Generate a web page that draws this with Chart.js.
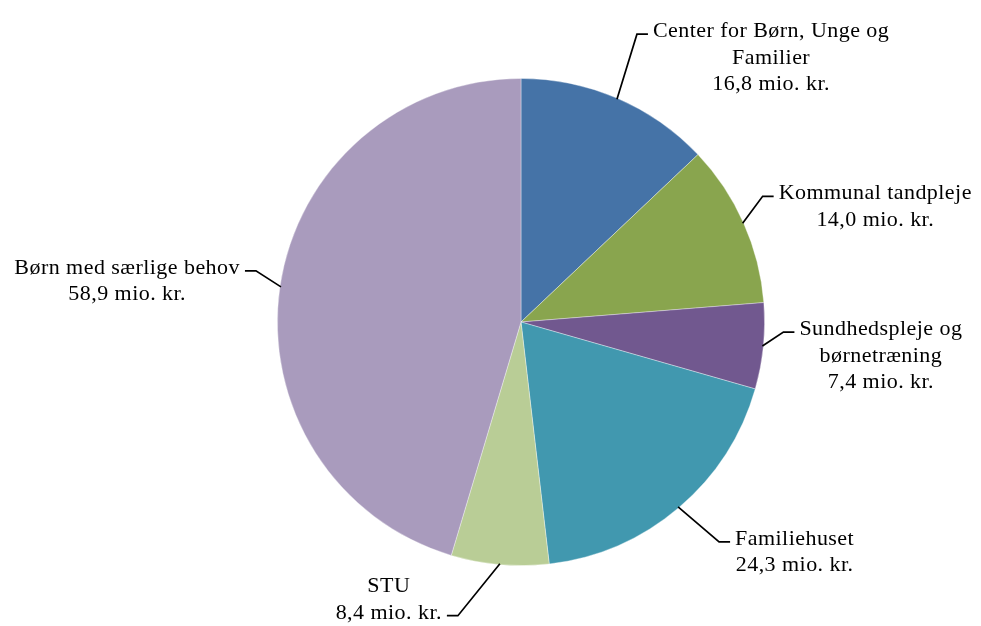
<!DOCTYPE html>
<html>
<head>
<meta charset="utf-8">
<script src="https://cdn.jsdelivr.net/npm/chart.js@4.4.0/dist/chart.umd.min.js"></script>
<style>
  html, body { margin: 0; padding: 0; background: #fff; }
  #wrap { width: 981px; height: 626px; }
</style>
</head>
<body>
<div id="wrap"><canvas id="pie" width="981" height="626"></canvas></div>
<script>
// categories (one array of text lines per slice) and values in mio. kr.
const categories = [
  ['Center for Børn, Unge og', 'Familier'],
  ['Kommunal tandpleje'],
  ['Sundhedspleje og', 'børnetræning'],
  ['Familiehuset'],
  ['STU'],
  ['Børn med særlige behov']
];
const values = [16.8, 14.0, 7.4, 24.3, 8.4, 58.9];
const colors = ['#4573A7', '#89A54E', '#71588F', '#4198AF', '#B9CD96', '#A99BBD'];

function fmt(v) { return v.toFixed(1).replace('.', ',') + ' mio. kr.'; }

// leader line elbow offsets from arc edge, side of the hook, which text line the hook meets
const leader = [
  { dx: 20, dy: -65, side: 1, line: 0 },
  { dx: 20, dy: -27, side: 1, line: 0 },
  { dx: 21, dy: -14, side: 1, line: 0 },
  { dx: 41, dy: 35, side: 1, line: 0 },
  { dx: -42, dy: 52, side: -1, line: 1 },
  { dx: -25, dy: -16, side: -1, line: 0 }
];

const FONT = '22px "Liberation Serif", serif';
const LH = 26.5;

const labelPlugin = {
  id: 'outLabels',
  afterDatasetsDraw(chart) {
    const ctx = chart.ctx;
    const arcs = chart.getDatasetMeta(0).data;
    ctx.save();
    ctx.font = FONT;
    ctx.letterSpacing = '0.45px';
    ctx.fillStyle = '#000';
    ctx.strokeStyle = '#000';
    ctx.lineWidth = 1.7;
    arcs.forEach((arc, i) => {
      const p = arc.getProps(['x', 'y', 'startAngle', 'endAngle', 'outerRadius'], true);
      const mid = (p.startAngle + p.endAngle) / 2;
      const ax = p.x + Math.cos(mid) * (p.outerRadius - 1);
      const ay = p.y + Math.sin(mid) * (p.outerRadius - 1);
      const L = leader[i];
      const ex = ax + L.dx, ey = ay + L.dy;
      const hx = ex + L.side * 11;
      ctx.beginPath();
      ctx.moveTo(ax, ay);
      ctx.lineTo(ex, ey);
      ctx.lineTo(hx, ey);
      ctx.stroke();

      const lines = categories[i].concat([fmt(values[i])]);
      const w = Math.max(...lines.map(t => ctx.measureText(t).width));
      const left = L.side > 0 ? hx + 5 : hx - 5 - w;
      const cx = left + w / 2;
      ctx.textAlign = 'center';
      ctx.textBaseline = 'alphabetic';
      const base0 = ey + 3 - L.line * LH;
      lines.forEach((t, k) => ctx.fillText(t, cx, base0 + k * LH));
    });
    ctx.restore();
  }
};

new Chart(document.getElementById('pie'), {
  type: 'pie',
  data: {
    labels: categories.map(c => c.join(' ')),
    datasets: [{
      data: values,
      backgroundColor: colors,
      borderColor: 'rgba(255,255,255,0.45)',
      borderWidth: 0.8
    }]
  },
  options: {
    responsive: false,
    animation: false,
    layout: { padding: { left: 277, right: 216, top: 78, bottom: 60 } },
    plugins: {
      legend: { display: false },
      tooltip: { enabled: false }
    }
  },
  plugins: [labelPlugin]
});
</script>
</body>
</html>
